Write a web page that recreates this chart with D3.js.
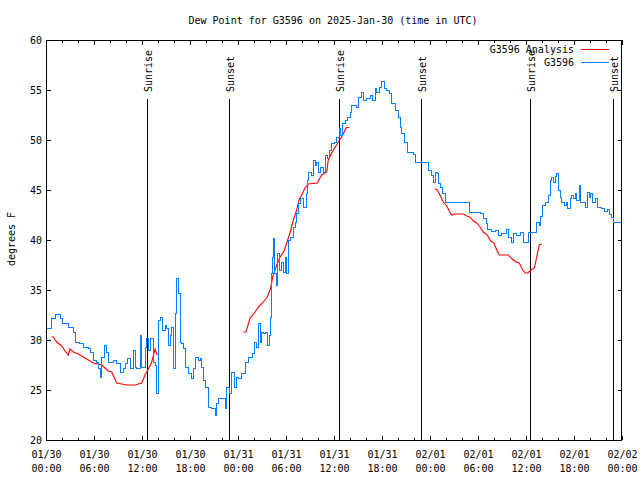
<!DOCTYPE html>
<html>
<head>
<meta charset="utf-8">
<script src="https://cdn.jsdelivr.net/npm/d3@7"></script>
<style>
  html, body { margin: 0; padding: 0; background: #fff; }
  svg { display: block; }
  text { font-family: "DejaVu Sans Mono", monospace; font-size: 10px; fill: #000; }
</style>
</head>
<body>
<svg id="chart" width="640" height="480"></svg>
<script>
// ---- data (hours since 2025-01-30 00:00 UTC) ----
const titleText = "Dew Point for G3596 on 2025-Jan-30 (time in UTC)";
const yLabel = "degrees F";
const seriesNames = ["G3596 Analysis", "G3596"];
const seriesColors = ["#ff0000", "#0080ff"];

const obsHours = [0.0,0.09,0.71,1.13,1.75,2.09,2.79,3.41,3.63,4.16,4.66,5.29,5.5,5.91,6.34,6.54,6.75,6.96,7.25,7.59,7.79,8.41,8.84,9.25,9.66,9.88,10.16,10.5,10.91,11.13,11.34,11.75,11.96,12.38,12.59,12.79,13.09,13.41,13.63,13.84,14.04,14.25,14.59,14.88,15.09,15.29,15.5,15.71,15.91,16.13,16.34,16.54,16.75,16.96,17.16,17.38,17.79,18.21,18.41,18.63,19.04,19.25,19.46,19.66,19.88,20.29,20.71,21.13,21.34,21.54,21.96,22.38,22.59,22.9,23.2,23.5,23.8,24.05,24.46,24.88,25.29,25.84,26.0,26.34,26.54,26.75,26.96,27.16,27.38,27.66,27.91,28.09,28.21,28.34,28.41,28.54,28.75,28.91,29.16,29.46,29.66,29.88,30.09,30.29,30.5,30.91,31.13,31.34,31.54,31.84,32.16,32.5,32.66,32.79,33.21,33.41,33.63,33.84,34.04,34.34,34.66,34.88,35.16,35.41,35.71,36.0,36.34,36.66,36.84,37.09,37.38,37.66,38.0,38.21,38.63,38.75,39.04,39.46,39.66,40.09,40.5,40.84,41.13,41.34,41.66,41.96,42.25,42.5,42.91,43.21,43.63,44.04,44.25,44.46,44.75,45.16,45.91,46.13,47.59,47.79,48.21,48.41,48.63,48.91,49.04,49.34,49.59,49.88,52.79,52.91,54.25,54.66,55.0,55.16,55.71,56.13,56.54,56.96,57.5,57.79,58.13,58.41,58.75,59.16,59.34,59.66,60.0,60.29,60.91,61.25,61.66,61.84,62.09,62.38,62.79,63.0,63.21,63.41,63.63,63.84,64.04,64.25,64.46,64.75,65.0,65.16,65.5,65.71,65.91,66.13,66.34,66.66,66.84,67.09,67.38,67.66,67.91,68.09,68.34,68.63,68.91,69.46,69.75,70.16,70.41,70.71,70.91,71.75,72.0];
const obsValues = [30.9,31.2,32.2,32.6,32.2,31.7,31.3,30.8,29.8,29.7,29.3,29.2,28.8,28.0,27.8,27.2,26.3,28.3,29.5,28.8,27.8,28.0,27.7,26.8,27.2,27.7,28.2,27.2,29.0,27.3,27.2,30.5,27.3,29.3,30.2,29.0,30.2,27.8,27.5,24.7,32.0,32.3,31.0,31.5,31.2,29.5,30.5,31.3,27.2,32.7,36.2,34.7,29.8,29.7,29.2,27.3,26.7,26.2,27.2,28.3,28.0,28.2,27.3,26.0,25.3,23.3,23.2,22.5,23.7,24.2,24.2,23.2,25.3,24.7,26.8,25.3,26.3,26.2,26.7,27.8,28.3,28.7,29.8,29.3,31.7,29.8,30.8,30.7,30.8,29.5,30.5,32.3,36.7,38.3,40.2,36.7,35.5,38.7,37.0,37.8,36.8,38.3,36.7,40.0,40.3,41.3,41.8,42.7,43.7,44.2,43.3,44.7,46.0,46.8,46.5,48.0,47.5,47.8,46.8,47.3,46.8,48.5,48.2,49.0,49.7,49.8,50.3,51.2,50.5,51.7,52.0,52.3,52.8,53.5,53.5,53.3,54.3,54.8,54.0,54.2,54.5,54.0,55.2,54.8,55.3,55.9,55.2,55.0,54.7,53.7,53.0,52.3,51.3,50.7,49.8,48.8,48.6,47.8,47.8,47.0,46.5,45.8,46.8,46.7,45.7,45.3,44.7,43.8,43.8,42.8,42.7,42.2,41.7,41.1,40.9,41.0,40.5,40.7,41.1,40.3,39.8,40.7,40.5,40.5,40.8,39.8,39.8,40.8,40.8,41.8,41.5,42.4,43.5,43.8,44.5,46.0,46.3,45.8,46.4,46.7,45.0,44.3,43.8,43.5,43.8,43.2,44.2,44.5,44.2,44.7,44.0,45.5,43.8,43.8,43.3,44.8,44.3,44.7,43.8,44.2,43.3,43.2,42.9,43.1,42.6,42.3,41.8,41.8,41.8];

const anaHours = [0.71,0.91,1.34,1.96,2.38,2.79,3.0,3.41,4.04,4.66,5.29,5.91,6.54,6.96,7.38,7.79,8.21,8.84,9.46,10.09,11.13,11.54,11.96,12.38,12.79,13.21,13.63,13.91,
  18.0,
  24.66,25.0,25.5,26.13,26.54,27.16,27.66,28.09,28.34,28.75,29.25,29.75,30.09,30.5,30.91,31.34,31.63,31.96,32.38,32.79,33.91,34.46,35.09,35.29,35.71,36.54,37.09,37.5,37.91,
  44.0,
  48.63,48.91,49.25,49.66,50.09,50.41,50.71,51.13,52.16,52.59,53.0,53.41,53.84,54.25,54.66,55.16,55.59,56.0,56.34,56.66,57.79,58.13,58.75,59.16,59.59,59.88,60.21,60.63,61.04,61.34,61.66,61.96];
const anaValues = [30.3,30.3,29.8,29.4,28.9,28.5,29.1,28.8,28.6,28.3,28.0,27.7,27.6,27.5,27.2,26.9,26.8,25.7,25.6,25.5,25.5,25.6,25.7,26.5,27.1,27.8,29.1,28.5,
  null,
  30.8,30.8,32.2,32.8,33.3,33.8,34.3,35.2,36.3,37.3,38.3,38.9,39.7,40.7,42.0,43.0,44.0,44.5,45.2,45.6,45.7,46.5,46.8,48.0,48.7,49.8,50.5,51.2,51.3,
  null,
  45.1,45.0,44.5,43.8,43.4,42.9,42.5,42.6,42.6,42.4,42.3,41.9,41.7,41.3,40.8,40.5,39.9,39.7,39.0,38.5,38.5,38.2,37.8,37.7,37.0,36.7,36.7,37.0,37.2,38.3,39.5,39.6];

const sunHours = [12.66, 22.91, 36.66, 46.91, 60.54, 70.91];
const sunLabels = ["Sunrise", "Sunset", "Sunrise", "Sunset", "Sunrise", "Sunset"];

const yTicks = [20, 25, 30, 35, 40, 45, 50, 55, 60];

// ---- layout ----
const svg = d3.select("#chart");
const L = 46, R = 622, T = 40, B = 440;
const t0 = Date.UTC(2025, 0, 30);
const toDate = h => new Date(t0 + h * 3600e3);

const x = d3.scaleUtc().domain([toDate(0), toDate(72)]).range([L, R]);
const y = d3.scaleLinear().domain([20, 60]).range([B, T]);

const g = svg.append("g");

// title
g.append("text").attr("x", 333).attr("y", 23.5).attr("text-anchor", "middle").text(titleText);

// y label
g.append("text").attr("transform", "translate(15,239) rotate(-90)")
  .attr("text-anchor", "middle").text(yLabel);

// ticks
const ax = g.append("g").attr("stroke", "#000").attr("stroke-width", 1).attr("shape-rendering", "crispEdges");
const majorX = d3.utcHour.every(6).range(toDate(0), toDate(72.01));
const minorX = d3.utcHour.every(2).range(toDate(0), toDate(72.01));
minorX.forEach(d => {
  const xx = Math.round(x(d)) + 0.5;
  ax.append("line").attr("x1", xx).attr("x2", xx).attr("y1", B).attr("y2", B - 2.5);
  ax.append("line").attr("x1", xx).attr("x2", xx).attr("y1", T).attr("y2", T + 2.5);
});
majorX.forEach(d => {
  const xx = Math.round(x(d)) + 0.5;
  ax.append("line").attr("x1", xx).attr("x2", xx).attr("y1", B).attr("y2", B - 4.5);
  ax.append("line").attr("x1", xx).attr("x2", xx).attr("y1", T).attr("y2", T + 4.5);
});
yTicks.forEach(v => {
  const yy = Math.round(y(v)) + 0.5;
  ax.append("line").attr("x1", L).attr("x2", L + 4.5).attr("y1", yy).attr("y2", yy);
  ax.append("line").attr("x1", R).attr("x2", R - 4.5).attr("y1", yy).attr("y2", yy);
});

// tick labels
const fmtD = d3.utcFormat("%m/%d"), fmtH = d3.utcFormat("%H:%M");
majorX.forEach(d => {
  const xx = x(d) + 0.5;
  g.append("text").attr("x", xx).attr("y", 457.5).attr("text-anchor", "middle").text(fmtD(d));
  g.append("text").attr("x", xx).attr("y", 471.5).attr("text-anchor", "middle").text(fmtH(d));
});
yTicks.forEach(v => {
  g.append("text").attr("x", 42).attr("y", y(v) + 4).attr("text-anchor", "end").text(v);
});

// sunrise / sunset
sunHours.forEach((h, i) => {
  const xx = Math.round(x(toDate(h))) + 0.5;
  g.append("line").attr("x1", xx).attr("x2", xx).attr("y1", 99).attr("y2", B)
    .attr("stroke", "#000").attr("stroke-width", 1).attr("shape-rendering", "crispEdges");
  g.append("text").attr("transform", `translate(${xx + 4},92) rotate(-90)`)
    .attr("text-anchor", "start").text(sunLabels[i]);
});

// series
const anaData = anaHours.map((h, i) => ({ d: toDate(h), v: anaValues[i] }));
const obsData = obsHours.map((h, i) => ({ d: toDate(h), v: obsValues[i] }));

const lineAna = d3.line().defined(p => p.v !== null).x(p => x(p.d)).y(p => y(p.v));
const lineObs = d3.line().curve(d3.curveStepAfter).x(p => x(p.d)).y(p => y(p.v));

g.append("path").attr("d", lineAna(anaData)).attr("fill", "none")
  .attr("stroke", seriesColors[0]).attr("stroke-width", 1.1);
g.append("path").attr("d", lineObs(obsData)).attr("fill", "none")
  .attr("stroke", seriesColors[1]).attr("stroke-width", 1).attr("shape-rendering", "crispEdges");

// border
g.append("rect").attr("x", L + 0.5).attr("y", T + 0.5).attr("width", R - L - 1).attr("height", B - T)
  .attr("fill", "none").attr("stroke", "#000").attr("stroke-width", 1).attr("shape-rendering", "crispEdges");

// legend
const legY = [49, 62.5];
seriesNames.forEach((n, i) => {
  g.append("text").attr("x", 574).attr("y", legY[i] + 3.5).attr("text-anchor", "end").text(n);
  g.append("line").attr("x1", 581).attr("x2", 609).attr("y1", legY[i]).attr("y2", legY[i])
    .attr("stroke", seriesColors[i]).attr("stroke-width", 1).attr("shape-rendering", "crispEdges");
});
</script>
</body>
</html>
